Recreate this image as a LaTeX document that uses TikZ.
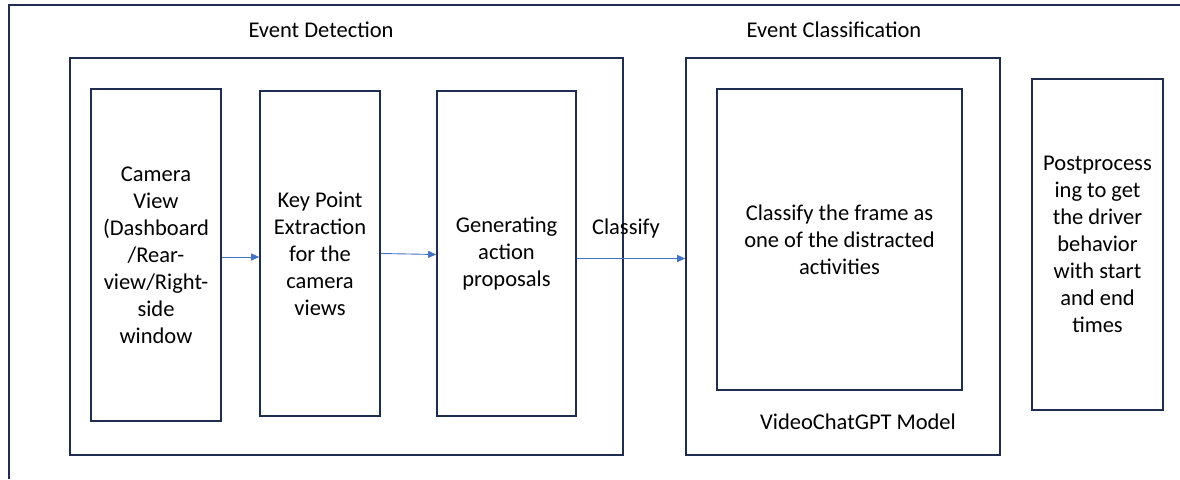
\documentclass[tikz,border=0pt]{standalone}
\usepackage{fontspec}
\setmainfont{Carlito}
\usetikzlibrary{arrows.meta,positioning}
\definecolor{framenavy}{RGB}{30,45,80}
\definecolor{arrowblue}{RGB}{68,114,196}

\begin{document}
\begin{tikzpicture}[x=1pt,y=-1pt,font=\fontsize{22.5}{27}\selectfont,
  box/.style={draw=framenavy, line width=1.6pt, inner sep=0pt, align=center},
  flow/.style={arrowblue, line width=0.9pt, -{Triangle[length=8pt,width=7pt]}}]
  \useasboundingbox (0,0) rectangle (1180,479);
  % Outer frame (only top and left edge show)
  \draw[framenavy, line width=2.8pt] (9,479) -- (9,5) -- (1180,5);
  % Stage boxes
  \node[box, minimum width=553, minimum height=397] (det) at (346.5,256.5) {};
  \node[box, minimum width=314, minimum height=397] (cls) at (843,256.5) {};
  % Step boxes
  \node[box, minimum width=130, minimum height=332] (cam) at (156,255)
    {Camera\\View\\(Dashboard\\/Rear-\\view/Right-\\side\\window};
  \node[box, minimum width=120, minimum height=325] (kp) at (320,253.5)
    {Key Point\\Extraction\\for the\\camera\\views};
  \node[box, minimum width=139, minimum height=325] (gen) at (506.5,253.5)
    {Generating\\action\\proposals};
  \node[box, minimum width=245, minimum height=301] (frm) at (839.5,239.5)
    {Classify the frame as\\one of the distracted\\activities};
  \node[box, minimum width=131, minimum height=331] (post) at (1097.5,244.5)
    {Postprocess\\ing to get\\the driver\\behavior\\with start\\and end\\times};
  % Labels
  \node (detlabel) at (321,30) {Event Detection};
  \node (clslabel) at (834,30) {Event Classification};
  \node (arrlabel) at (626,228) {Classify};
  \node (model) at (858,422) {VideoChatGPT Model};
  % Arrows
  \draw[flow] ([yshift=-2pt]cam.east) -- ([yshift=-2pt]cam.east -| kp.west);
  \draw[flow] (kp.east) -- ([yshift=-1pt]gen.west);
  \draw[flow] ([yshift=-5pt]gen.east) -- ([yshift=-5pt]gen.east -| cls.west);
\end{tikzpicture}
\end{document}
